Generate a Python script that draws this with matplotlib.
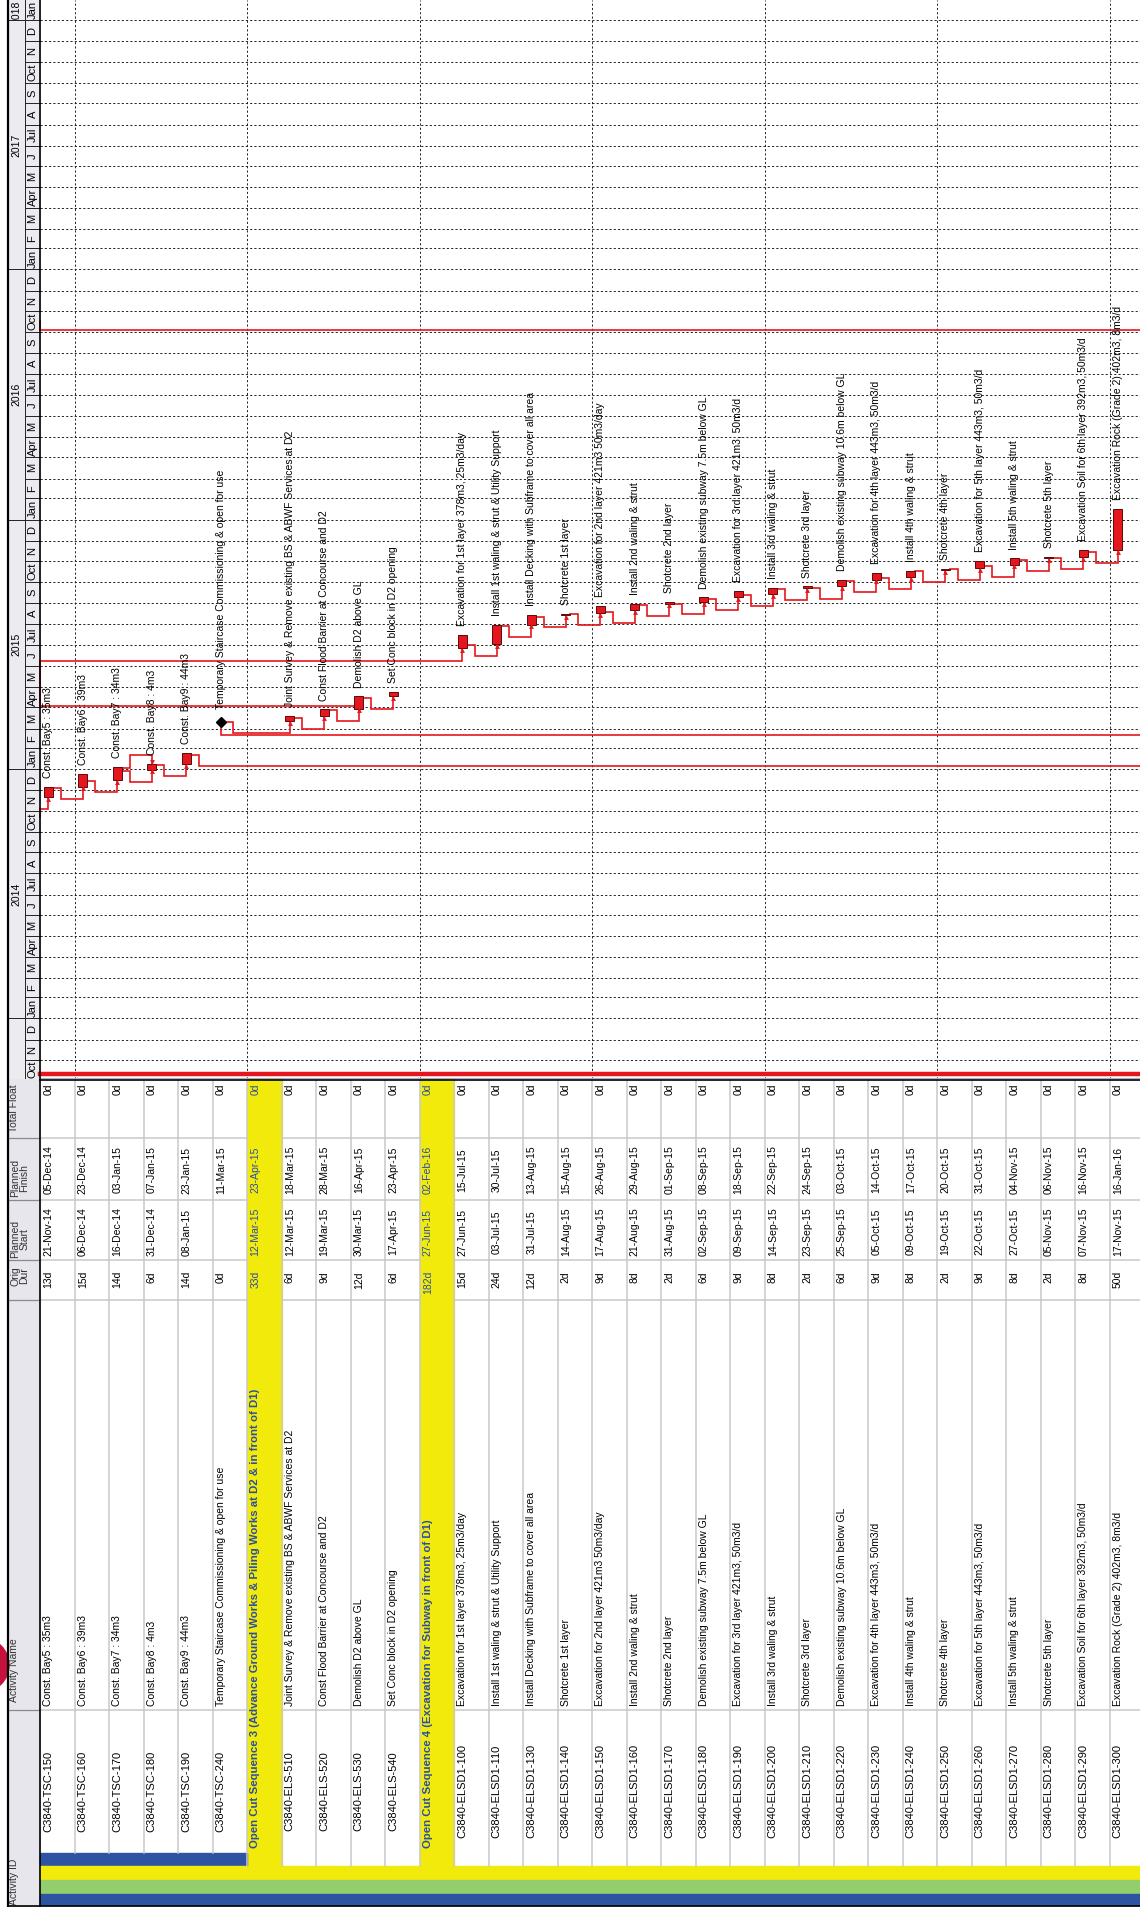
import matplotlib
matplotlib.use("Agg")
import matplotlib.pyplot as plt
import matplotlib.dates as mdates
from matplotlib.patches import Rectangle, Circle
from matplotlib.lines import Line2D
from matplotlib.transforms import Bbox, TransformedBbox
from datetime import datetime

plt.rcParams['font.family'] = ['Liberation Sans', 'DejaVu Sans']

# ---------------- data ----------------
row_type = ['task'] * 5 + ['milestone'] + ['wbs'] + ['task'] * 4 + ['wbs'] + ['task'] * 20

activity_ids = [
    "C3840-TSC-150", "C3840-TSC-160", "C3840-TSC-170", "C3840-TSC-180", "C3840-TSC-190",
    "C3840-TSC-240", "",
    "C3840-ELS-510", "C3840-ELS-520", "C3840-ELS-530", "C3840-ELS-540", "",
    "C3840-ELSD1-100", "C3840-ELSD1-110", "C3840-ELSD1-130", "C3840-ELSD1-140",
    "C3840-ELSD1-150", "C3840-ELSD1-160", "C3840-ELSD1-170", "C3840-ELSD1-180",
    "C3840-ELSD1-190", "C3840-ELSD1-200", "C3840-ELSD1-210", "C3840-ELSD1-220",
    "C3840-ELSD1-230", "C3840-ELSD1-240", "C3840-ELSD1-250", "C3840-ELSD1-260",
    "C3840-ELSD1-270", "C3840-ELSD1-280", "C3840-ELSD1-290", "C3840-ELSD1-300",
]

activity_names = [
    "Const. Bay5 : 35m3", "Const. Bay6 : 39m3", "Const. Bay7 : 34m3", "Const. Bay8 : 4m3",
    "Const. Bay9 : 44m3", "Temporary Staircase Commissioning & open for use",
    "Open Cut Sequence 3 (Advance Ground Works & Piling Works at D2 & in front of D1)",
    "Joint Survey & Remove existing BS & ABWF Services at D2",
    "Const Flood Barrier at Concourse and D2", "Demolish D2 above GL",
    "Set Conc block in D2 opening",
    "Open Cut Sequence 4 (Excavation for Subway in front of D1)",
    "Excavation for 1st layer 378m3, 25m3/day",
    "Install 1st waling & strut & Utility Support",
    "Install Decking with Subframe to cover all area", "Shotcrete 1st layer",
    "Excavation for 2nd layer 421m3 50m3/day", "Install 2nd waling & strut",
    "Shotcrete 2nd layer", "Demolish existing subway 7.5m below GL",
    "Excavation for 3rd layer 421m3, 50m3/d", "Install 3rd waling & strut",
    "Shotcrete 3rd layer", "Demolish existing subway 10.6m below GL",
    "Excavation for 4th layer 443m3, 50m3/d", "Install 4th waling & strut",
    "Shotcrete 4th layer", "Excavation for 5th layer 443m3, 50m3/d",
    "Install 5th waling & strut", "Shotcrete 5th layer",
    "Excavation Soil for 6th layer 392m3, 50m3/d",
    "Excavation Rock (Grade 2) 402m3, 8m3/d",
]

orig_dur = ["13d", "15d", "14d", "6d", "14d", "0d", "33d", "6d", "9d", "12d", "6d", "182d",
            "15d", "24d", "12d", "2d", "9d", "8d", "2d", "6d", "9d", "8d", "2d", "6d",
            "9d", "8d", "2d", "9d", "8d", "2d", "8d", "50d"]

planned_start = ["21-Nov-14", "06-Dec-14", "16-Dec-14", "31-Dec-14", "08-Jan-15", "",
                 "12-Mar-15", "12-Mar-15", "19-Mar-15", "30-Mar-15", "17-Apr-15",
                 "27-Jun-15", "27-Jun-15", "03-Jul-15", "31-Jul-15", "14-Aug-15",
                 "17-Aug-15", "21-Aug-15", "31-Aug-15", "02-Sep-15", "09-Sep-15",
                 "14-Sep-15", "23-Sep-15", "25-Sep-15", "05-Oct-15", "09-Oct-15",
                 "19-Oct-15", "22-Oct-15", "27-Oct-15", "05-Nov-15", "07-Nov-15",
                 "17-Nov-15"]

planned_finish = ["05-Dec-14", "23-Dec-14", "03-Jan-15", "07-Jan-15", "23-Jan-15",
                  "11-Mar-15", "23-Apr-15", "18-Mar-15", "28-Mar-15", "16-Apr-15",
                  "23-Apr-15", "02-Feb-16", "15-Jul-15", "30-Jul-15", "13-Aug-15",
                  "15-Aug-15", "26-Aug-15", "29-Aug-15", "01-Sep-15", "08-Sep-15",
                  "18-Sep-15", "22-Sep-15", "24-Sep-15", "03-Oct-15", "14-Oct-15",
                  "17-Oct-15", "20-Oct-15", "31-Oct-15", "04-Nov-15", "06-Nov-15",
                  "16-Nov-15", "16-Jan-16"]

total_float = ["0d"] * 32

# relationships between rows in view: (predecessor row, successor row, type)
links = [(0, 1, 'FS'), (1, 2, 'FS'), (2, 3, 'FF'), (2, 3, 'FS'), (3, 4, 'FS'),
         (5, 7, 'FS'), (7, 8, 'FS'), (8, 9, 'FS'), (9, 10, 'FS')] + \
        [(r, r + 1, 'FS') for r in range(12, 31)]

# relationships to activities outside the view
ext_in_left = [(0, "03-Nov-14")]                      # (successor row, routing date)
ext_out_right = [(4, "05-Jan-15"), (5, "20-Feb-15")]  # (predecessor row, routing date)
ext_via_left = [(9, 12, "03-Apr-15", "08-Jun-15")]    # (pred, succ, leave date, return date)
ext_across = ["05-Oct-16"]

month_letters = {1: "Jan", 2: "F", 3: "M", 4: "Apr", 5: "M", 6: "J", 7: "Jul",
                 8: "A", 9: "S", 10: "Oct", 11: "N", 12: "D"}
years = [2014, 2015, 2016, 2017, 2018]


def dnum(s):
    return mdates.date2num(datetime.strptime(s, "%d-%b-%y"))


def start_of(i):
    return dnum(planned_start[i] or planned_finish[i])


def finish_of(i):
    return dnum(planned_finish[i]) + (0 if row_type[i] == 'milestone' else 1)


# ---------------- layout ----------------
W, H, DPI = 1140, 1907, 100
fig = plt.figure(figsize=(W / DPI, H / DPI), dpi=DPI)

ROW_PX = 34.5
X0 = 40
SPLIT = 1079
XL = (-X0 / ROW_PX, (W - X0) / ROW_PX)
STRIP_L = (8 - X0) / ROW_PX
STRIP_M = (25 - X0) / ROW_PX
BAR_OFF = 0.24
BAR_W = 0.25
FS = 7.5

ref = mdates.date2num(datetime(2013, 11, 1))
PX_DAY = 0.6833
YL = (ref - (SPLIT - 1060) / PX_DAY, ref + 1060 / PX_DAY)

ax_g = fig.add_axes([0, 1 - SPLIT / H, 1, SPLIT / H])
ax_g.set_xlim(*XL)
ax_g.set_ylim(*YL)
ax_g.axis('off')

ax_t = fig.add_axes([0, 0, 1, 1 - SPLIT / H])
ax_t.set_xlim(*XL)
ax_t.set_ylim(H, SPLIT)
ax_t.axis('off')

red = '#e5161d'
dark_red = '#5c0a0a'
blue_txt = '#2a4fa6'
yellow = '#f2ea0b'
grid_grey = '#c9c9c9'
dash = (0, (2.2, 2.2))

# ---- timescale strip and grid ----
ax_g.add_patch(Rectangle((STRIP_L, YL[0]), -STRIP_L, YL[1] - YL[0], color='#ececf0',
                         zorder=0))
d = datetime(2013, 10, 1)
while d < datetime(2018, 3, 1):
    nxt = datetime(d.year + (d.month == 12), d.month % 12 + 1, 1)
    a, b = mdates.date2num(d), mdates.date2num(nxt)
    lo, hi = max(a, YL[0]), min(b, YL[1])
    if hi > lo:
        ax_g.text(STRIP_M / 2, (lo + hi) / 2, month_letters[d.month], rotation=90,
                  ha='center', va='center', fontsize=8, rotation_mode='anchor', clip_on=True)
    if YL[0] < a < YL[1]:
        x_from = STRIP_L if d.month == 1 else STRIP_M
        ax_g.plot([x_from, 0], [a, a], color='#222', lw=0.7)
        ax_g.plot([0, XL[1]], [a, a], color='#222', lw=0.7, ls=dash)
    d = nxt

for y in years:
    lo = max(mdates.date2num(datetime(y, 1, 1)), YL[0])
    hi = min(mdates.date2num(datetime(y + 1, 1, 1)), YL[1])
    mid = mdates.date2num(datetime(y, 7, 2)) if y < 2018 else lo + 11
    t = ax_g.text((STRIP_L + STRIP_M) / 2, mid, str(y), rotation=90, ha='center',
                  va='center', fontsize=7.5, rotation_mode='anchor')
    t.set_clip_box(TransformedBbox(Bbox([[STRIP_L, lo], [STRIP_M, hi]]), ax_g.transData))
    t.set_clip_on(True)
ax_g.plot([STRIP_M, STRIP_M], YL, color='#222', lw=0.7)

for r in [1, 6, 11, 16, 21, 26, 31]:
    ax_g.plot([r, r], YL, color='#222', lw=0.7, ls=dash)

# ---- bars, milestones, labels ----
for i, kind in enumerate(row_type):
    x = i + BAR_OFF
    if kind == 'task':
        s = start_of(i)
        f = finish_of(i)
        ax_g.bar(x, f - s, bottom=s, width=BAR_W, color=red, edgecolor=dark_red, lw=0.7,
                 zorder=4)
        ax_g.text(x, f + 13, activity_names[i], rotation=90, rotation_mode='anchor',
                  ha='left', va='center', fontsize=FS, zorder=5)
    elif kind == 'milestone':
        f = finish_of(i)
        ax_g.plot(x, f, marker='D', color='black', ms=5, zorder=5)
        ax_g.text(x, f + 18, activity_names[i], rotation=90, rotation_mode='anchor',
                  ha='left', va='center', fontsize=FS, zorder=5)


def red_path(xs, ys, arrow=None):
    ax_g.plot(xs, ys, color=red, lw=1.2, zorder=3, solid_joinstyle='miter')
    if arrow:
        ax_g.plot(xs[-1], ys[-1] - 2.5 if arrow == '^' else ys[-1] + 2.5, marker=arrow,
                  color=red, ms=3.5, zorder=4, mew=0)


for p, s_row, kind in links:
    px = p + BAR_OFF
    side = px + (0 if row_type[p] == 'milestone' else BAR_W / 2)
    vx = px + 0.36
    sx = s_row + BAR_OFF
    if kind == 'FS':
        ss = start_of(s_row)
        y_exit = min(ss - 2, finish_of(p) - 1)
        y_h = ss - 18
        red_path([side, vx, vx, sx, sx], [y_exit, y_exit, y_h, y_h, ss], '^')
    else:
        fs = finish_of(s_row)
        y_exit = finish_of(p) - 2
        y_h = fs + 14
        red_path([side, vx, vx, sx, sx], [y_exit, y_exit, y_h, y_h, fs], 'v')

for s_row, dt in ext_in_left:
    sx = s_row + BAR_OFF
    red_path([0, 0, sx, sx], [dnum(dt) - 12, dnum(dt), dnum(dt), start_of(s_row)], '^')

for p, dt in ext_out_right:
    px = p + BAR_OFF
    if row_type[p] == 'milestone':
        red_path([px, px, XL[1]], [finish_of(p), dnum(dt), dnum(dt)])
    else:
        vx = px + 0.36
        y_exit = finish_of(p) - 2
        red_path([px + BAR_W / 2, vx, vx, XL[1]], [y_exit, y_exit, dnum(dt), dnum(dt)])

for p, s_row, d1, d2 in ext_via_left:
    sx = s_row + BAR_OFF
    red_path([p + BAR_OFF - BAR_W / 2, 0, 0, sx, sx],
             [dnum(d1), dnum(d1), dnum(d2), dnum(d2), start_of(s_row)], '^')

for dt in ext_across:
    red_path([0, 0, XL[1]], [dnum(dt) + 12, dnum(dt), dnum(dt)])

# ---- boundary lines between chart and table ----
fig.add_artist(Line2D([X0 / W, 1], [1 - 1074 / H] * 2, color=red, lw=3.2))
fig.add_artist(Line2D([X0 / W, 1], [1 - 1077.5 / H] * 2, color='#9fb0d8', lw=0.8))
fig.add_artist(Line2D([X0 / W, 1], [1 - 1079.5 / H] * 2, color='black', lw=1.2))

# ---- table ----
col_edges = [1138, 1200, 1260, 1300, 1710]
ax_t.add_patch(Rectangle((STRIP_L, SPLIT), -STRIP_L, H - SPLIT, color='#e6e6ec', zorder=0))
for y in col_edges:
    ax_t.plot([STRIP_L, 0], [y, y], color='#8a8a8a', lw=0.9)

# header labels: (column centre px, lines)
hdr_pos = [(1882, ["Activity ID"]), (1670, ["Activity Name"]),
           (1276, ["Orig", "Dur"]), (1239, ["Planned", "Start"]),
           (1178, ["Planned", "Finish"]), (1108, ["Total Float"])]
for yc, lines in hdr_pos:
    if len(lines) == 1:
        xs = [(14 - X0) / ROW_PX]
    else:
        xs = [(15.5 - X0) / ROW_PX, (24.5 - X0) / ROW_PX]
    for xx, t in zip(xs, lines):
        ax_t.text(xx, yc, t, rotation=90, rotation_mode='anchor', ha='center',
                  va='center', fontsize=FS, color='#333')

for i, kind in enumerate(row_type):
    x = i + BAR_OFF
    cell_end = 1853 if i < 6 else 1866
    if kind == 'wbs':
        ax_t.add_patch(Rectangle((i, SPLIT), 1, 1879 - SPLIT, color=yellow, zorder=1))
        ax_t.text(x, 1848, activity_names[i], rotation=90, rotation_mode='anchor',
                  ha='left', va='center', fontsize=8.2, fontweight='bold', color=blue_txt,
                  zorder=3)
        tc = blue_txt
    else:
        for y in col_edges:
            ax_t.plot([i, i + 1], [y, y], color=grid_grey, lw=1.1, zorder=2)
        ax_t.text(x, 1791, activity_ids[i], rotation=90, rotation_mode='anchor',
                  ha='center', va='center', fontsize=8, zorder=3)
        ax_t.text(x, 1706, activity_names[i], rotation=90, rotation_mode='anchor',
                  ha='left', va='center', fontsize=FS, zorder=3)
        tc = 'black'
    ax_t.text(x, 1083, total_float[i], rotation=90, rotation_mode='anchor', ha='right',
              va='center', fontsize=FS, color=tc, zorder=3)
    ax_t.text(x, 1170, planned_finish[i], rotation=90, rotation_mode='anchor',
              ha='center', va='center', fontsize=FS, color=tc, zorder=3)
    if planned_start[i]:
        ax_t.text(x, 1232, planned_start[i], rotation=90, rotation_mode='anchor',
                  ha='center', va='center', fontsize=FS, color=tc, zorder=3)
    ax_t.text(x, 1271, orig_dur[i], rotation=90, rotation_mode='anchor', ha='right',
              va='center', fontsize=FS, color=tc, zorder=3)
    if i > 0:
        ax_t.plot([i, i], [SPLIT, cell_end], color=grid_grey, lw=1.1, zorder=2)

# WBS level bands at the foot of the ID column
ax_t.add_patch(Rectangle((0, 1853), 6, 13, color='#2f53a3', zorder=1))
ax_t.add_patch(Rectangle((0, 1866), XL[1], 13, color=yellow, zorder=1))
ax_t.add_patch(Rectangle((0, 1880), XL[1], 13, color='#93cd6c', zorder=1))
ax_t.add_patch(Rectangle((0, 1894), XL[1], 11, color='#2f53a3', zorder=1))

# frame lines
fig.add_artist(Line2D([8 / W] * 2, [0, 1], color='black', lw=1.6))
fig.add_artist(Line2D([X0 / W] * 2, [0, 1], color='black', lw=1.2))
fig.add_artist(Line2D([8 / W, 1], [1 - 1905.5 / H] * 2, color='black', lw=1.2))
fig.add_artist(Circle((-0.18, (H - 1665) / DPI), 0.27, transform=fig.dpi_scale_trans,
                      color='#c4123c'))

fig.savefig("out.png", dpi=DPI)
